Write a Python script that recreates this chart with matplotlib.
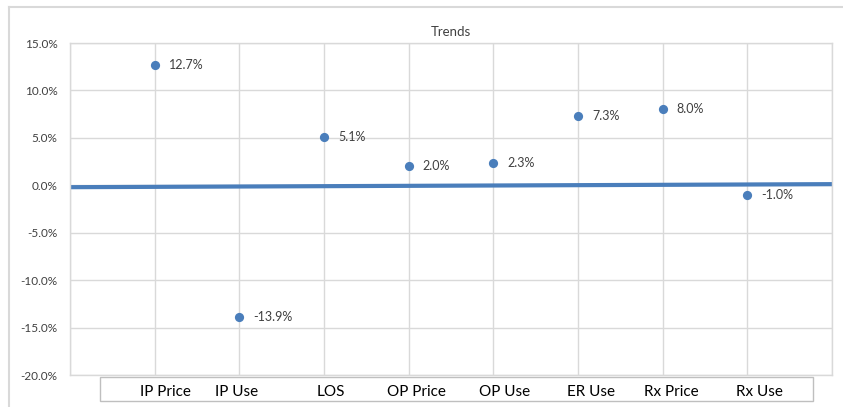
import matplotlib.pyplot as plt
from matplotlib.patches import Rectangle
from matplotlib.lines import Line2D
import numpy as np

categories = ['IP Price', 'IP Use', 'LOS', 'OP Price', 'OP Use', 'ER Use', 'Rx Price', 'Rx Use']
values = [12.7, -13.9, 5.1, 2.0, 2.3, 7.3, 8.0, -1.0]
trend_x = [0, 9]
trend_y = [-0.2, 0.12]
yticks = [15, 10, 5, 0, -5, -10, -15, -20]

# label centers in the category row (pixels, figure coords)
label_px = [165, 237, 331, 416, 505, 591, 671, 759]

W, H = 843, 407
plt.rcParams['font.family'] = ['Lato', 'DejaVu Sans']
fig = plt.figure(figsize=(W / 100, H / 100), dpi=100)
ax = fig.add_axes([70 / W, (H - 375) / H, (832 - 70) / W, (375 - 43) / H])

grid_c = '#d9d9d9'
blue = '#4a7ebb'
txt_c = '#404040'

x = np.arange(1, len(categories) + 1)
ax.plot(trend_x, trend_y, color=blue, lw=3, solid_capstyle='butt', zorder=2)
ax.scatter(x, values, s=44, color=blue, zorder=3, linewidths=0)
for xi, v in zip(x, values):
    ax.annotate(f'{v:.1f}%', (xi, v), xytext=(10, 0), textcoords='offset points',
                va='center', ha='left', fontsize=9, color=txt_c)

ax.set_xlim(0, 9)
ax.set_ylim(-20, 15)
ax.set_yticks(yticks)
ax.set_yticklabels([f'{t:.1f}%' for t in yticks], fontsize=8.5, color=txt_c)
ax.set_xticks(np.arange(0, 10))
ax.set_xticklabels([])
ax.tick_params(length=0, pad=9)
ax.grid(True, color=grid_c, lw=1)
for s in ax.spines.values():
    s.set_color(grid_c)
    s.set_linewidth(1)

ax.set_title('Trends', fontsize=9.5, color=txt_c, pad=5)

# category label box
fig.patches.append(Rectangle((100 / W, (H - 401) / H), (813 - 100) / W, (401 - 377) / H,
                             transform=fig.transFigure, fill=False, edgecolor='#bfbfbf', lw=1))
for px, c in zip(label_px, categories):
    fig.text(px / W, (H - 392) / H, c, ha='center', va='center', fontsize=11, color='black')

# outer chart frame
fig.add_artist(Line2D([9 / W, 1], [(H - 7) / H, (H - 7) / H], color=grid_c, lw=1.5))
fig.add_artist(Line2D([9 / W, 9 / W], [0, (H - 7) / H], color=grid_c, lw=1.5))

fig.savefig('out.png', dpi=100)
